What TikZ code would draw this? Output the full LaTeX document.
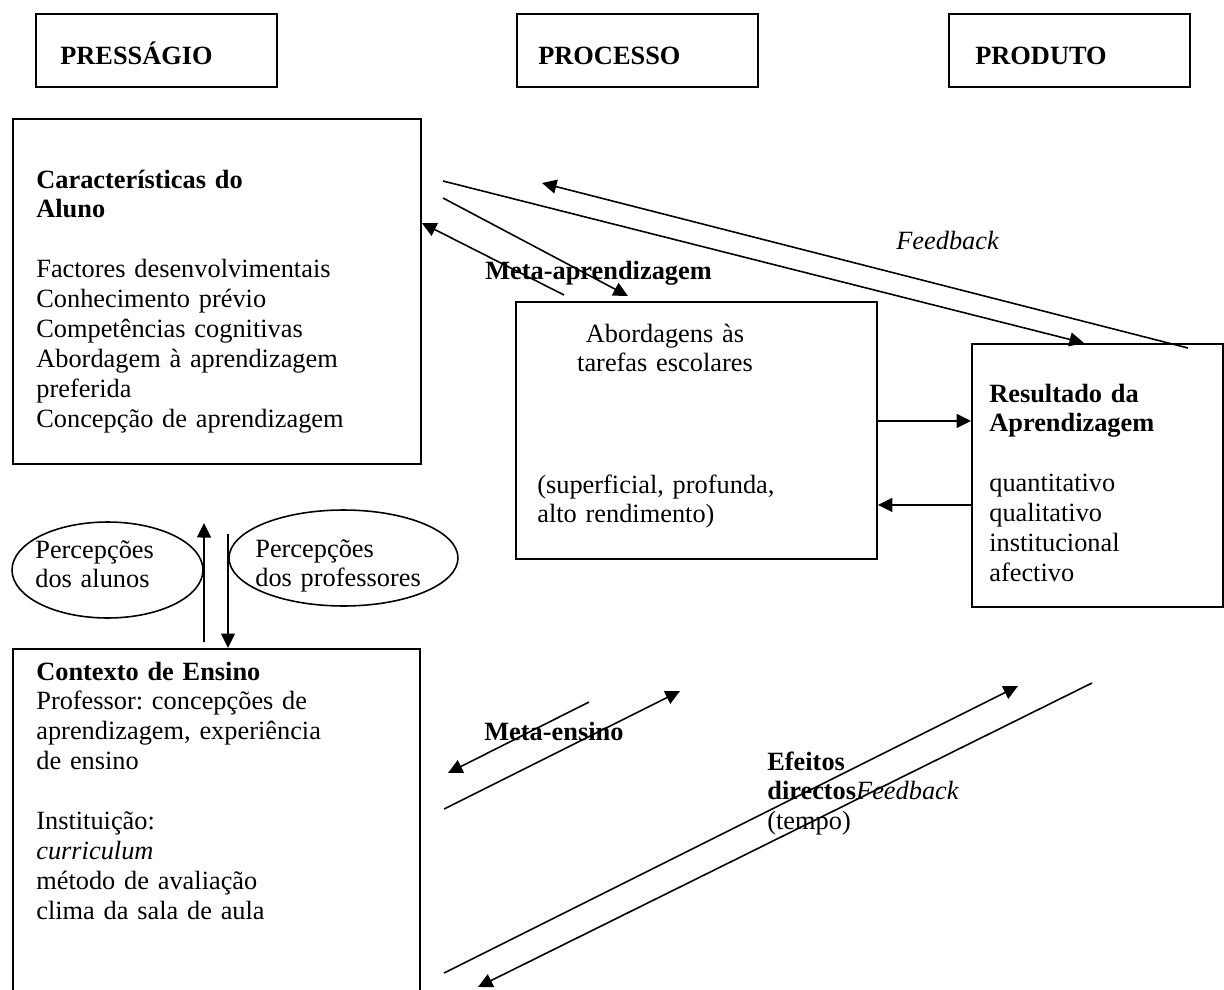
\documentclass[tikz,border=0pt]{standalone}
\usepackage{fontspec}
\setmainfont{Liberation Serif}
\usetikzlibrary{arrows.meta,shapes.geometric}
\frenchspacing

\begin{document}
\begin{tikzpicture}[x=0.02cm, y=-0.02cm, font=\fontsize{15}{17.07}\selectfont]
    \tikzset{%
      box/.style={draw, line width=1.1pt, anchor=north west, inner sep=0pt},
      head/.style={box, minimum width=4.82cm, minimum height=1.46cm},
      lbl/.style={anchor=base west, inner sep=0pt, align=left, text width=8cm},
      clbl/.style={anchor=base, inner sep=0pt, align=center, text width=6cm},
      oval/.style={draw, ellipse, line width=0.9pt, inner sep=0pt,
        minimum height=1.92cm},
      arr/.style={line width=0.9pt, -{Triangle[length=0.29cm,width=0.28cm]}},
    }
    \useasboundingbox (0,0) rectangle (1224,990);

    % headers
    \node[head] (pres) at (35,13) {};
    \node[lbl] (presT) at (60,65) {\textbf{PRESSÁGIO}};
    \node[head] (proc) at (516,13) {};
    \node[lbl] (procT) at (538,65) {\textbf{PROCESSO}};
    \node[head] (prod) at (948,13) {};
    \node[lbl] (prodT) at (975,65) {\textbf{PRODUTO}};

    % student
    \node[box, minimum width=8.16cm, minimum height=6.9cm] (char) at (12,118) {};
    \node[lbl] (charT) at (36,188) {\textbf{Características do}\\\textbf{Aluno}\\[17.07pt]
      Factores desenvolvimentais\\Conhecimento prévio\\Competências cognitivas\\
      Abordagem à aprendizagem\\preferida\\Concepção de aprendizagem};

    % process
    \node[box, minimum width=7.22cm, minimum height=5.14cm] (abo) at (515,301) {};
    \node[clbl] (aboT) at (665,342) {Abordagens às\\tarefas escolares};
    \node[lbl] (aboB) at (537,493) {(superficial, profunda,\\alto rendimento)};

    % product
    \node[box, minimum width=5.02cm, minimum height=5.26cm] (res) at (971,343) {};
    \node[lbl] (resT) at (989,402) {\textbf{Resultado da}\\\textbf{Aprendizagem}\\[17.07pt]
      quantitativo\\qualitativo\\institucional\\afectivo};

    % teaching context
    \node[box, minimum width=8.14cm, minimum height=6.84cm] (ctx) at (12,648) {};
    \node[lbl] (ctxT) at (36,680) {\textbf{Contexto de Ensino}\\Professor: concepções de\\
      aprendizagem, experiência\\de ensino\\[17.07pt]Instituição:\\\textit{curriculum}\\
      método de avaliação\\clima da sala de aula};

    % perceptions
    \node[oval, minimum width=3.82cm] (pAl) at (107.5,570) {};
    \node[lbl] (pAlT) at (35,558) {Percepções\\dos alunos};
    \node[oval, minimum width=4.58cm] (pPr) at (343.5,558) {};
    \node[lbl] (pPrT) at (255,557) {Percepções\\dos professores};

    % labels
    \node[lbl] (metaA) at (485,279) {\textbf{Meta-aprendizagem}};
    \node[lbl] (fbA) at (896,249) {\textit{Feedback}};
    \node[lbl] (metaE) at (484,740) {\textbf{Meta-ensino}};
    \node[lbl] (efe) at (767,770) {\textbf{Efeitos}\\\textbf{directos}\textit{Feedback}\\(tempo)};

    % upper arrows
    \coordinate (a1) at (443,181);
    \draw[arr] (a1) -- ([xshift=2.26cm]res.north west);
    \coordinate (b1) at (542,183);
    \draw[arr] ([xshift=4.34cm,yshift=-0.1cm]res.north west) -- (b1);
    \coordinate (c1) at (443,198);
    \draw[arr] (c1) -- ([xshift=2.26cm,yshift=0.1cm]abo.north west);
    \draw[arr] ([xshift=0.98cm,yshift=0.12cm]abo.north west) -- ([yshift=-2.1cm]char.north east);

    \draw[arr] ([yshift=0.19cm]abo.east) -- ([yshift=0.19cm]abo.east -| res.west);
    \draw[arr] ([yshift=-0.59cm]res.west) -- ([yshift=-0.59cm]res.west -| abo.east);

    % perception arrows
    \coordinate (up1) at (204,523);
    \draw[arr] ([xshift=3.84cm,yshift=0.12cm]ctx.north west) -- (up1);
    \coordinate (dn1) at (228,534);
    \draw[arr] (dn1) -- (dn1 |- ctx.north);

    % lower arrows
    \coordinate (e1) at (589,702);
    \coordinate (e2) at (448,773);
    \draw[arr] (e1) -- (e2);
    \coordinate (f1) at (444,809);
    \coordinate (f2) at (680,691);
    \draw[arr] (f1) -- (f2);
    \coordinate (g1) at (444,973);
    \coordinate (g2) at (1018,686);
    \draw[arr] (g1) -- (g2);
    \coordinate (h1) at (1092,683);
    \coordinate (h2) at (478,987);
    \draw[arr] (h1) -- (h2);
\end{tikzpicture}
\end{document}
